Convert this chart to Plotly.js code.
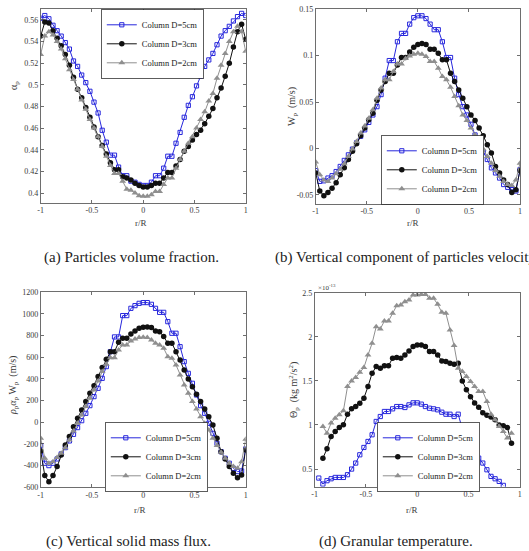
<!DOCTYPE html>
<html><head><meta charset="utf-8">
<script src="https://cdn.plot.ly/plotly-3.0.1.min.js"></script>
<style>html,body{margin:0;padding:0;background:#fff}#chart{width:529px;height:551px}</style>
</head><body><div id="chart"></div>
<script>
// ---------- data ----------
const r = [-1,-0.96,-0.92,-0.88,-0.84,-0.8,-0.76,-0.72,-0.68,-0.64,-0.6,-0.56,-0.52,-0.48,-0.44,-0.4,-0.36,-0.32,-0.28,-0.24,-0.2,-0.16,-0.12,-0.08,-0.04,0,0.04,0.08,0.12,0.16,0.2,0.24,0.28,0.32,0.36,0.4,0.44,0.48,0.52,0.56,0.6,0.64,0.68,0.72,0.76,0.8,0.84,0.88,0.92,0.96,1];
const seriesNames = ['Column D=5cm','Column D=3cm','Column D=2cm'];

// (a) particles volume fraction
const alpha5 = [0.5615,0.564,0.561,0.555,0.550,0.545,0.539,0.533,0.522,0.517,0.509,0.502,0.494,0.484,0.474,0.458,0.447,0.435,0.435,0.424,0.416,0.416,0.411,0.410,0.408,0.407,0.407,0.410,0.416,0.416,0.423,0.434,0.434,0.446,0.456,0.470,0.481,0.489,0.499,0.508,0.517,0.523,0.529,0.537,0.545,0.550,0.554,0.559,0.563,0.566,0.564];
const alpha3 = [0.545,0.558,0.557,0.550,0.543,0.536,0.528,0.518,0.507,0.496,0.488,0.479,0.470,0.461,0.452,0.444,0.436,0.428,0.4215,0.4215,0.415,0.414,0.412,0.409,0.407,0.4055,0.4055,0.407,0.409,0.409,0.414,0.419,0.419,0.425,0.431,0.4385,0.443,0.449,0.454,0.458,0.464,0.471,0.478,0.488,0.497,0.508,0.520,0.535,0.549,0.556,0.542];
const alpha2 = [0.528,0.545,0.549,0.546,0.540,0.533,0.524,0.514,0.505,0.496,0.486,0.4775,0.468,0.460,0.452,0.443,0.434,0.4255,0.418,0.418,0.411,0.4035,0.4025,0.400,0.3975,0.397,0.397,0.3985,0.4015,0.4015,0.408,0.414,0.414,0.423,0.431,0.4385,0.446,0.452,0.460,0.468,0.475,0.485,0.492,0.506,0.518,0.529,0.540,0.549,0.554,0.549,0.531];

// (b) vertical particle velocity W_p (m/s)
const w5 = [-0.024,-0.0356,-0.035,-0.032,-0.0295,-0.025,-0.0195,-0.013,-0.007,-0.0008,0.006,0.013,0.020,0.028,0.036,0.045,0.058,0.0757,0.0947,0.0947,0.115,0.124,0.124,0.134,0.141,0.143,0.143,0.140,0.134,0.128,0.128,0.115,0.098,0.098,0.0757,0.058,0.045,0.036,0.026,0.0145,0.006,-0.004,-0.012,-0.021,-0.0265,-0.032,-0.039,-0.042,-0.0445,-0.046,-0.023];
const w3 = [-0.0265,-0.046,-0.051,-0.0475,-0.043,-0.037,-0.0285,-0.021,-0.012,-0.003,0.005,0.0136,0.022,0.031,0.038,0.052,0.063,0.072,0.081,0.081,0.090,0.098,0.098,0.104,0.109,0.112,0.113,0.112,0.107,0.107,0.1025,0.0955,0.0955,0.081,0.072,0.063,0.054,0.045,0.036,0.030,0.022,0.0136,0.004,-0.005,-0.0195,-0.0265,-0.034,-0.039,-0.0475,-0.0445,-0.0238];
const w2 = [-0.0148,-0.0285,-0.034,-0.0356,-0.032,-0.0275,-0.0225,-0.0167,-0.0087,-0.0008,0.0075,0.0165,0.024,0.0326,0.0416,0.054,0.065,0.074,0.074,0.083,0.091,0.091,0.097,0.0997,0.1015,0.1026,0.1015,0.099,0.0936,0.0936,0.0864,0.0775,0.074,0.066,0.056,0.046,0.036,0.030,0.022,0.0145,0.0075,-0.0008,-0.0087,-0.016,-0.0238,-0.030,-0.0356,-0.039,-0.040,-0.034,-0.016];

// (c) vertical solid mass flux
const flux5 = [-215,-378,-400,-378,-338,-292,-234,-172,-111,-49,15,83,154,237,314,406,514,652,788,788,985,985,1052,1077,1098,1105,1105,1089,1052,1015,1015,929,822,822,698,560,452,360,252,154,83,-9,-102,-194,-271,-332,-378,-425,-455,-449,-246];
const flux3 = [-265,-492,-548,-492,-409,-302,-209,-132,-40,37,114,191,268,338,422,505,582,652,652,738,775,775,815,843,868,877,880,874,843,837,791,729,729,652,575,483,400,329,258,191,123,52,-25,-148,-271,-338,-409,-471,-511,-486,-255];
const flux2 = [-148,-332,-378,-363,-326,-286,-234,-163,-80,-9,68,145,222,298,382,468,535,597,597,668,714,714,751,769,782,785,782,760,729,714,683,606,591,529,437,345,268,191,123,52,-9,-71,-148,-215,-277,-332,-378,-409,-425,-363,-157];

// (d) granular temperature (x 1e-13)
const theta5 = [null,0.398,0.33,0.368,0.39,0.405,0.405,0.405,0.436,0.50,0.568,0.662,0.745,0.813,0.889,1.04,1.096,1.153,1.153,1.183,1.209,1.209,1.198,1.228,1.251,1.251,1.236,1.209,1.19,1.183,1.172,1.145,1.122,1.122,1.096,1.122,0.956,0.858,0.794,0.707,0.624,0.568,0.492,0.417,0.39,0.36,0.315,null,null,null,null];
const theta3 = [null,null,0.624,0.730,0.870,0.926,0.972,1.002,1.122,1.183,1.209,1.247,1.304,1.436,1.587,1.662,1.643,1.673,1.673,1.757,1.764,1.757,1.794,1.840,1.889,1.907,1.907,1.889,1.832,1.832,1.794,1.726,1.719,1.70,1.689,1.70,1.50,1.40,1.32,1.25,1.20,1.14,1.11,1.09,1.06,1.00,0.99,0.97,0.794,null,null];
const theta2 = [null,null,0.983,0.907,1.021,1.077,1.115,1.160,1.436,1.50,1.538,1.598,1.651,1.794,1.926,2.115,2.089,2.179,2.179,2.266,2.353,2.36,2.398,2.417,2.474,2.474,2.481,2.481,2.436,2.436,2.368,2.277,2.266,2.077,1.90,1.643,1.606,1.549,1.492,1.436,1.379,1.379,1.266,1.122,1.058,0.983,0.926,0.851,0.907,null,null];

// tick labels
const xTickVals = [-1,-0.5,0,0.5,1];
const xTickText = ['-1','-0.5','0','0.5','1'];
const aTickVals = [0.4,0.42,0.44,0.46,0.48,0.5,0.52,0.54,0.56];
const aTickText = ['0.4','0.42','0.44','0.46','0.48','0.5','0.52','0.54','0.56'];
const bTickVals = [-0.05,0,0.05,0.1,0.15];
const bTickText = ['-0.05','0','0.05','0.1','0.15'];
const cTickVals = [-600,-400,-200,0,200,400,600,800,1000,1200];
const cTickText = ['-600','-400','-200','0','200','400','600','800','1000','1200'];
const dTickVals = [0.5,1,1.5,2,2.5];
const dTickText = ['0.5','1','1.5','2','2.5'];

// ---------- styling ----------
const BLUE = '#2727dc', BLACK = '#111111', GRAY = '#8f8f8f';
const styles = [
  {line:{color:BLUE,width:1}, marker:{symbol:'square-open',size:4.2,color:BLUE,line:{width:1,color:BLUE}}},
  {line:{color:BLACK,width:1}, marker:{symbol:'circle',size:5.5,color:BLACK}},
  {line:{color:GRAY,width:1}, marker:{symbol:'triangle-up',size:6,color:GRAY}}
];
const panels = [
  {ys:[alpha5,alpha3,alpha2], xa:'x', ya:'y', lg:'legend'},
  {ys:[w5,w3,w2], xa:'x2', ya:'y2', lg:'legend2'},
  {ys:[flux5,flux3,flux2], xa:'x3', ya:'y3', lg:'legend3'},
  {ys:[theta5,theta3,theta2], xa:'x4', ya:'y4', lg:'legend4'}
];
const traces = [];
panels.forEach(p => p.ys.forEach((y,i) => traces.push({
  type:'scatter', mode:'lines+markers', x:r, y:y, name:seriesNames[i],
  xaxis:p.xa, yaxis:p.ya, legend:p.lg, cliponaxis:true,
  line:styles[i].line, marker:styles[i].marker
})));

const W = 529, H = 551;
const px = v => v / W, py = v => 1 - v / H;
const AX = '#4a4a4a';
function ax(extra){
  return Object.assign({showline:true, linecolor:AX, linewidth:0.8, mirror:'ticks',
    ticks:'inside', ticklen:3, tickcolor:AX, tickwidth:0.8, showgrid:false, zeroline:false,
    tickfont:{size:8, color:'#3a3a3a'}, tickmode:'array'}, extra);
}
const legendBase = {bgcolor:'#ffffff', bordercolor:'#333', borderwidth:0.8,
  font:{size:8.5, color:'#222'}, itemwidth:30, tracegroupgap:0, xanchor:'left', yanchor:'middle'};

const layout = {
  width:W, height:H, margin:{l:0,r:0,t:0,b:0},
  paper_bgcolor:'#ffffff', plot_bgcolor:'#ffffff', showlegend:true,
  font:{family:'"Liberation Serif","Times New Roman",serif', size:8, color:'#333'},
  xaxis: ax({domain:[px(40.7),px(245.7)], range:[-1,1], anchor:'y', tickvals:xTickVals, ticktext:xTickText}),
  yaxis: ax({domain:[py(203),py(8.5)], range:[0.3908,0.5705], anchor:'x', tickvals:aTickVals, ticktext:aTickText}),
  xaxis2: ax({domain:[px(315.7),px(520)], range:[-1,1], anchor:'y2', tickvals:xTickVals, ticktext:xTickText}),
  yaxis2: ax({domain:[py(204),py(9.3)], range:[-0.06,0.15], anchor:'x2', tickvals:bTickVals, ticktext:bTickText}),
  xaxis3: ax({domain:[px(40.7),px(245.7)], range:[-1,1], anchor:'y3', tickvals:xTickVals, ticktext:xTickText}),
  yaxis3: ax({domain:[py(487.3),py(292.3)], range:[-600,1200], anchor:'x3', tickvals:cTickVals, ticktext:cTickText}),
  xaxis4: ax({domain:[px(314.7),px(519.7)], range:[-1,1], anchor:'y4', tickvals:xTickVals, ticktext:xTickText}),
  yaxis4: ax({domain:[py(486.7),py(292.7)], range:[0.3,2.5], anchor:'x4', tickvals:dTickVals, ticktext:dTickText}),
  legend: Object.assign({}, legendBase, {x:px(101), y:py(44)}),
  legend2: Object.assign({}, legendBase, {x:px(381), y:py(170)}),
  legend3: Object.assign({}, legendBase, {x:px(105), y:py(457)}),
  legend4: Object.assign({}, legendBase, {x:px(377), y:py(457)}),
  annotations: []
};
function ann(text, x, y, o){
  layout.annotations.push(Object.assign({text:text, x:px(x), y:py(y), xref:'paper', yref:'paper',
    showarrow:false, xanchor:'center', yanchor:'middle', font:{size:9, color:'#3a3a3a'}}, o||{}));
}
// axis titles
ann('r/R', 141, 223);
ann('r/R', 413, 223);
ann('r/R', 140, 510);
ann('r/R', 412, 510);
ann('α<sub>p</sub>', 14, 86, {textangle:-90, font:{size:10, color:'#3a3a3a'}});
ann('W<sub>p</sub>  (m/s)', 292, 107, {textangle:-90, font:{size:10, color:'#3a3a3a'}});
ann('<i>ρ</i><sub>p</sub><i>α</i><sub>p</sub> W<sub>p</sub>  (m/s)', 13, 386, {textangle:-90, font:{size:10, color:'#3a3a3a'}});
ann('Θ<sub>p</sub>  (kg m<sup>2</sup>/s<sup>2</sup>)', 294, 390, {textangle:-90, font:{size:10, color:'#3a3a3a'}});
ann('×10<sup>-13</sup>', 316, 287, {xanchor:'left', font:{size:7, color:'#3a3a3a'}});
// captions
const capFont = {size:15, color:'#222', family:'"Liberation Serif","Times New Roman",serif'};
ann('(a) Particles volume fraction.', 131, 257, {font:capFont});
ann('(b) Vertical component of particles velocity.', 273, 257, {xanchor:'left', font:capFont});
ann('(c) Vertical solid mass flux.', 128, 541, {font:capFont});
ann('(d) Granular temperature.', 396, 541, {font:capFont});

Plotly.newPlot('chart', traces, layout, {displayModeBar:false, staticPlot:true});
</script>
</body></html>
